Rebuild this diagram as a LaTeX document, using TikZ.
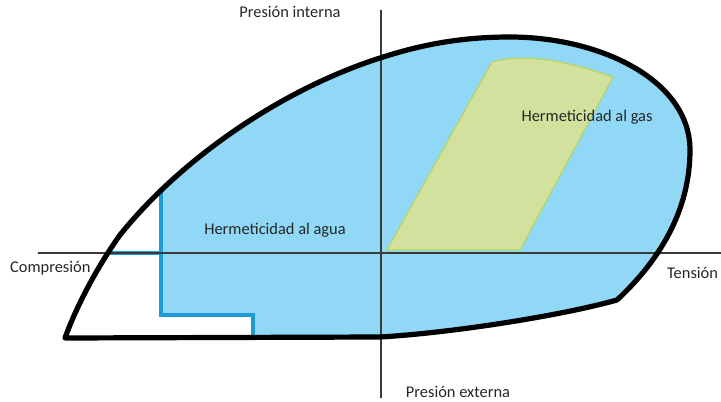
\documentclass[tikz,border=0pt]{standalone}
\usepackage{fontspec}
\setmainfont{Carlito}
\definecolor{zoneblue}{HTML}{90D8F6}
\definecolor{edgeblue}{HTML}{1E9AD6}
\definecolor{zonegreen}{HTML}{D2E29E}
\definecolor{edgegreen}{HTML}{B6D660}
\definecolor{axisgray}{HTML}{3A3A3A}
\tikzset{
  lbl/.style={font=\fontsize{16.4}{18}\selectfont, text=black!85, inner sep=0pt},
  axisline/.style={draw=axisgray, line width=1.5},
  outline/.style={draw=black, line width=5.2, line join=round},
  blueedge/.style={draw=edgeblue, line width=3.4}
}
\begin{document}
\begin{tikzpicture}[x=1pt,y=-1pt]
\useasboundingbox (0,0) rectangle (721,402);
\def\outlinepath{(65,338) -- (380,337) .. controls (450,333) and (560,316) .. (617,300)
  .. controls (660,260) and (690,210) .. (690,150)
  .. controls (690,80) and (600,37) .. (510,37)
  .. controls (460,37) and (420,45) .. (380,58)
  .. controls (280,90) and (180,160) .. (120,235)
  .. controls (95,270) and (75,310) .. (65,338) -- cycle}
% blue zone
\begin{scope}
  \clip \outlinepath;
  \fill[zoneblue] (161,0) -- (721,0) -- (721,402) -- (253,402) -- (253,315) -- (161,315) -- cycle;
  \draw[blueedge] (161,0) -- (161,315) -- (253,315) -- (253,402);
  \draw[blueedge] (0,253) -- (161,253);
\end{scope}
% gas zone
\draw[fill=zonegreen, draw=edgegreen, line width=1.2] (387,250) -- (520,250) -- (613,77)
  .. controls (560,58) and (520,54) .. (492,62) -- cycle;
% axes
\coordinate (xl) at (38,253);
\coordinate (xr) at (721,253);
\coordinate (yt) at (381,10);
\coordinate (yb) at (381,398);
\draw[axisline] (xl) -- (xr);
\draw[axisline] (yt) -- (yb);
% outline
\draw[outline] \outlinepath;
% labels
\node[lbl] (pi) at (290,12) {Presión interna};
\node[lbl] (pe) at (458,392) {Presión externa};
\node[lbl, anchor=west] (co) at (10,268) {Compresión};
\node[lbl, anchor=west] (te) at (667,273) {Tensión};
\node[lbl] (ha) at (275,230) {Hermeticidad al agua};
\node[lbl] (hg) at (587,117) {Hermeticidad al gas};
\end{tikzpicture}
\end{document}
